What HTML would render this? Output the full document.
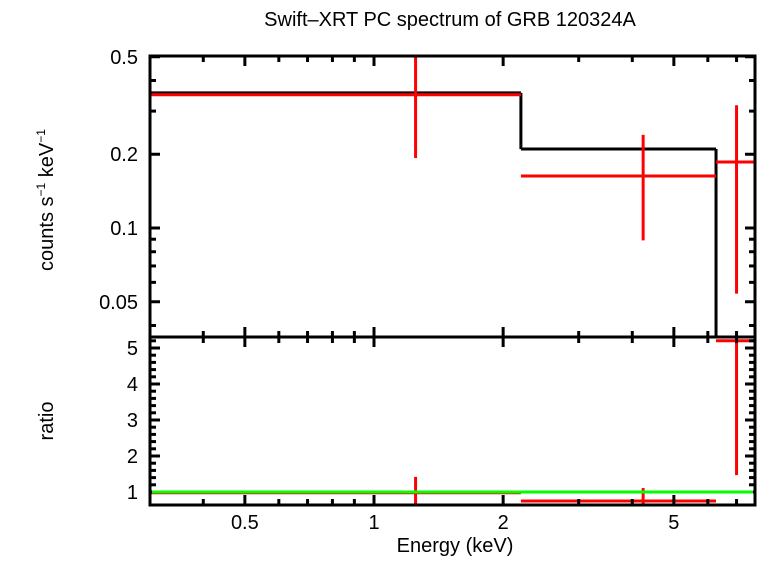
<!DOCTYPE html>
<html><head><meta charset="utf-8"><style>
body{margin:0;background:#fff;}
svg text{font-family:"Liberation Sans",sans-serif;fill:#000;}
</style></head><body>
<svg id="c" width="758" height="556" xmlns="http://www.w3.org/2000/svg">
<text x="450" y="26" font-size="20" text-anchor="middle">Swift–XRT PC spectrum of GRB 120324A</text>
<text transform="translate(53,200) rotate(-90)" font-size="20" text-anchor="middle">counts s<tspan font-size="12" dy="-8">−1</tspan><tspan dy="8"> keV</tspan><tspan font-size="12" dy="-8">−1</tspan></text>
<text transform="translate(53,421) rotate(-90)" font-size="20" text-anchor="middle">ratio</text>
<text x="455" y="552" font-size="20" text-anchor="middle">Energy (keV)</text>
<g id="g"></g>
</svg>
<script>
const xTicks=[0.5,1,2,5];
const topTicks=[0.05,0.1,0.2,0.5];
const ratioTicks=[1,2,3,4,5];
const modelEdges=[0.3,2.2,6.27];
const modelVals=[0.356,0.21];
const binLo=[0.3,2.2,6.27];
const binHi=[2.2,6.27,7.7];
const binE=[1.25,4.24,7.0];
const flux=[0.35,0.163,0.186];
const fluxLo=[0.193,0.089,0.054];
const fluxHi=[0.6,0.24,0.317];
const ratio=[0.98,0.75,5.2];
const ratioLo=[0.6,0.6,1.47];
const ratioHi=[1.42,1.11,5.4];

const L=150,R=755,T=56,M=337,B=505;
const X=e=>374+429*Math.log10(e);
const YT=v=>228-245*(Math.log10(v)+1);
const YB=v=>492-36*(v-1);
const g=document.getElementById('g');
const NS='http://www.w3.org/2000/svg';
function ln(x1,y1,x2,y2,c,w,name){const l=document.createElementNS(NS,'line');
l.setAttribute('x1',x1);l.setAttribute('y1',y1);l.setAttribute('x2',x2);l.setAttribute('y2',y2);
l.setAttribute('stroke',c);l.setAttribute('stroke-width',w);


g.appendChild(l);return l;}
function tx(x,y,s,a,name){const t=document.createElementNS(NS,'text');
t.setAttribute('x',x);t.setAttribute('y',y);t.setAttribute('font-size','20');t.setAttribute('text-anchor',a);t.textContent=s;


g.appendChild(t);}
const cl=v=>Math.max(L,Math.min(R,v));
for(let i=0;i<modelVals.length;i++){
 ln(cl(X(modelEdges[i])),YT(modelVals[i]),cl(X(modelEdges[i+1])),YT(modelVals[i]),'#000',3,'model-step');
 if(i<modelVals.length-1) ln(X(modelEdges[i+1]),YT(modelVals[i]),X(modelEdges[i+1]),YT(modelVals[i+1]),'#000',3,'model-step');
}
const lastE=X(modelEdges[modelEdges.length-1]);
ln(lastE,YT(modelVals[modelVals.length-1]),lastE,M,'#000',3,'model-step');
for(let i=0;i<binE.length;i++){
 ln(cl(X(binLo[i])),YT(flux[i]),cl(X(binHi[i])),YT(flux[i]),'red',3,'data-bin');
 ln(X(binE[i]),Math.max(T,YT(fluxHi[i])),X(binE[i]),Math.min(M,YT(fluxLo[i])),'red',3,'data-error');
 ln(cl(X(binLo[i])),Math.min(B,Math.max(M,YB(ratio[i]))),cl(X(binHi[i])),Math.min(B,Math.max(M,YB(ratio[i]))),'red',3,'ratio-bin');
 ln(X(binE[i]),Math.max(M,YB(ratioHi[i])),X(binE[i]),Math.min(B,YB(ratioLo[i])),'red',3,'ratio-error');
}
[[T,M],[M,B]].forEach(([a,b])=>{const r=document.createElementNS(NS,'rect');
r.setAttribute('x',L);r.setAttribute('y',a);r.setAttribute('width',R-L);r.setAttribute('height',b-a);
r.setAttribute('fill','none');r.setAttribute('stroke','#000');r.setAttribute('stroke-width',3);


g.appendChild(r);});
const minorX=[0.3,0.4,0.5,0.6,0.7,0.8,0.9,1,2,3,4,5,6,7];
minorX.forEach(e=>{const x=X(e);if(x<L||x>R)return;const big=xTicks.includes(e);const s=big?10:6;
 [[T,T+s],[M-s,M+s],[B-s,B]].forEach(([a,b])=>ln(x,a,x,b,'#000',3,'x-tick'));});
xTicks.forEach(e=>tx(X(e),529,String(e),'middle','x-tick-label'));
const minorY=[0.04,0.05,0.06,0.07,0.08,0.09,0.1,0.2,0.3,0.4,0.5];
minorY.forEach(v=>{const y=YT(v);if(y<T||y>M)return;const s=topTicks.includes(v)?10:6;
 ln(L,y,L+s,y,'#000',3,'y-tick');ln(R-s,y,R,y,'#000',3,'y-tick');});
topTicks.forEach(v=>tx(L-12,YT(v)+7,String(v),'end','y-tick-label'));
for(let v=1;v<=5.3;v+=0.2){const y=YB(v);if(y>B||y<M)continue;const big=Math.abs(v-Math.round(v))<0.01;const s=big?10:6;
 ln(L,y,L+s,y,'#000',3,'ratio-tick');ln(R-s,y,R,y,'#000',3,'ratio-tick');}
ratioTicks.forEach(v=>tx(L-12,YB(v)+7,String(v),'end','ratio-tick-label'));
ln(L+2,YB(1),R-2,YB(1),'#00ff00',3,'unity-line');
</script>
</body></html>
